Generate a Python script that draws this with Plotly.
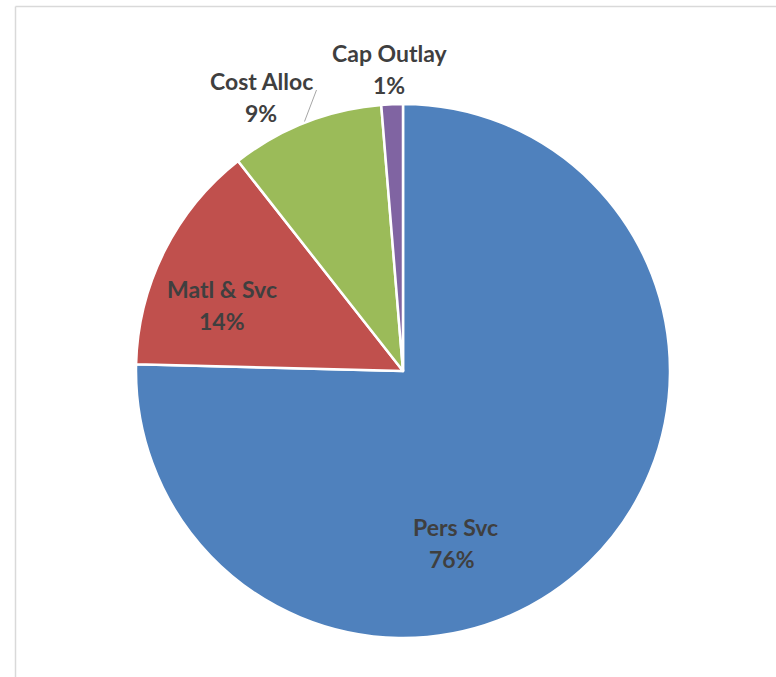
import plotly.graph_objects as go

# ---- data ----
categories = ["Pers Svc", "Matl & Svc", "Cost Alloc", "Cap Outlay"]
values = [75.4, 14.0, 9.3, 1.3]
pct_labels = ["76%", "14%", "9%", "1%"]
colors = ["#4F81BD", "#C0504D", "#9BBB59", "#8064A2"]

W, H = 776, 677


def px(x):
    return x / W


def py(y):
    return 1 - y / H


cx, cy, r = 403, 371, 267

fig = go.Figure(go.Pie(
    labels=categories,
    values=values,
    sort=False,
    direction="clockwise",
    rotation=0,
    textinfo="none",
    hoverinfo="label+percent",
    marker=dict(colors=colors, line=dict(color="white", width=2.5)),
    domain=dict(x=[px(cx - r), px(cx + r)], y=[py(cy + r), py(cy - r)]),
    showlegend=False,
))

font = dict(family="Lato, Open Sans, sans-serif", size=23, color="#3F3F3F", weight="bold")

# label positions (pixel centers of each text line)
label_pos = {
    "Pers Svc": (455, 527, 452, 559),
    "Matl & Svc": (222, 289, 222, 321),
    "Cost Alloc": (261, 81, 261, 113),
    "Cap Outlay": (390, 53, 389, 85),
}
annotations = []
for cat, pct in zip(categories, pct_labels):
    x1, y1, x2, y2 = label_pos[cat]
    annotations.append(dict(x=px(x1), y=py(y1), xref="paper", yref="paper", text=cat,
                            showarrow=False, font=font, xanchor="center", yanchor="middle"))
    annotations.append(dict(x=px(x2), y=py(y2), xref="paper", yref="paper", text=pct,
                            showarrow=False, font=font, xanchor="center", yanchor="middle"))

shapes = [
    # leader line for Cost Alloc
    dict(type="line", xref="paper", yref="paper", x0=px(316.5), y0=py(90), x1=px(304.5), y1=py(121.5),
         line=dict(color="#A6A6A6", width=1)),
    # frame
    dict(type="line", xref="paper", yref="paper", x0=px(15.5), y0=py(6.5), x1=px(15.5), y1=0,
         line=dict(color="#D9D9D9", width=1.5)),
    dict(type="line", xref="paper", yref="paper", x0=px(15.5), y0=py(6.5), x1=1, y1=py(6.5),
         line=dict(color="#D9D9D9", width=1.5)),
]

fig.update_layout(
    width=W, height=H,
    margin=dict(l=0, r=0, t=0, b=0),
    paper_bgcolor="white",
    plot_bgcolor="white",
    annotations=annotations,
    shapes=shapes,
)

fig.write_html("out.html")
